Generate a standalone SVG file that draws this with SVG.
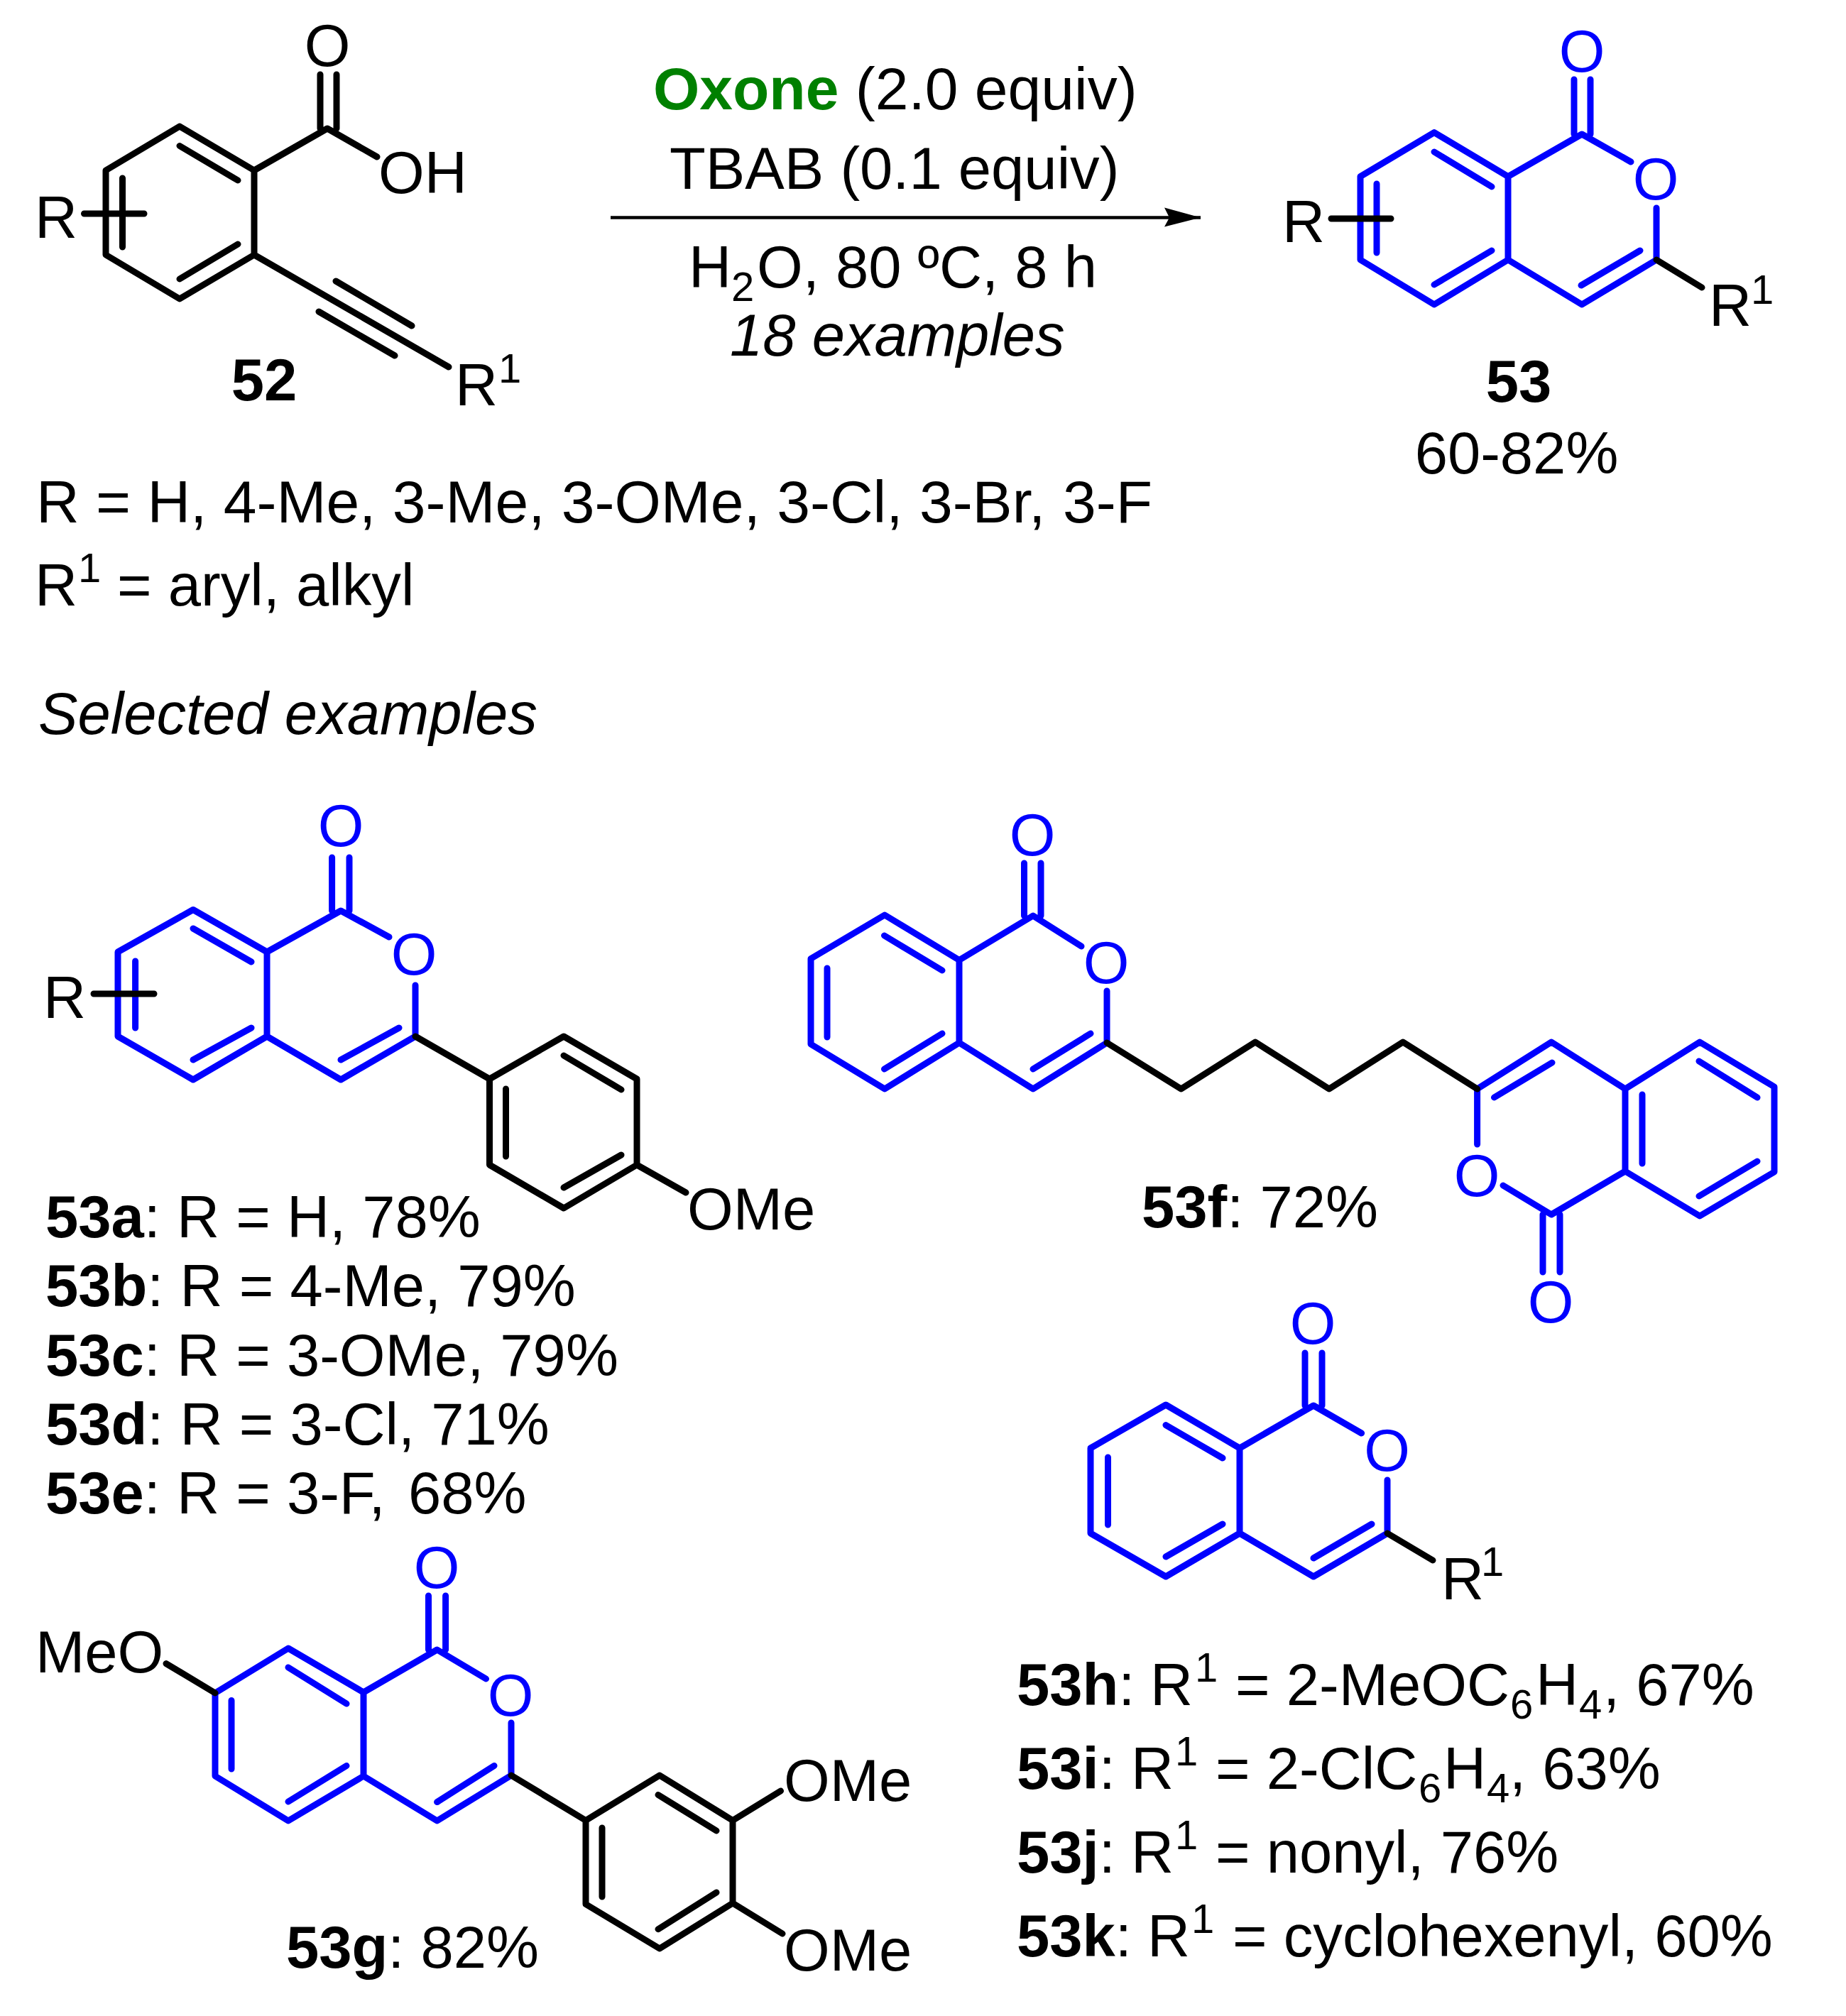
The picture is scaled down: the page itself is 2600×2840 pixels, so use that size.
<svg xmlns="http://www.w3.org/2000/svg" width="2600" height="2840" viewBox="0 0 2600 2840">
<style>
text{font-family:"Liberation Sans",Arial,sans-serif;font-size:83.200px;fill:#000}
.w{font-size:84px}
.b{font-weight:bold}
.i{font-style:italic}
.g{fill:#008000}
.bl{fill:#0000ff}
.s{font-size:58px}
.k,.u{fill:none;stroke-width:9;stroke-linecap:round;stroke-linejoin:round}
.k{stroke:#000}
.u{stroke:#0000ff}
.m{text-anchor:middle}
</style>
<defs>
<marker id="ah" markerUnits="userSpaceOnUse" markerWidth="60" markerHeight="34" refX="51" refY="14" orient="auto" overflow="visible">
<path d="M0 0L51 14L0 27L7 14Z" fill="#000"/>
</marker>
</defs>
<rect width="2600" height="2840" fill="#fff"/>
<g id="connectors">
<path d="M860 306.500H1691" stroke="#000" stroke-width="4.500" fill="none" marker-end="url(#ah)"/>
</g>
<g id="conditions">
<text x="920" y="154" class="w"><tspan class="b g">Oxone</tspan> (2.0 equiv)</text>
<text x="943" y="266">TBAB (0.1 equiv)</text>
<text x="970" y="405">H<tspan class="s" dy="19">2</tspan><tspan x="1066" dy="-19">O, 80 ºC, 8 h</tspan></text>
<text x="1028" y="501" class="i">18 examples</text>
</g>
<g id="mol-52">
<path class="k" d="M253 178L358 240V359L253 421L149 359V240ZM253 205.500L335 254M335 344L253 393M172.500 251V348M118.500 301H203M358 240L461 181L531 221M451 105V181M474 105V181M358 359L632 517M473 396L580 459M449 439L556 501"/>
<text x="461" y="93" class="m">O</text>
<text x="533" y="272">OH</text>
<text x="49" y="335">R</text>
<text x="641" y="571">R</text>
<text x="702" y="539" class="s">1</text>
<text x="372" y="564" class="b m">52</text>
</g>
<g id="mol-53">
<path class="u" d="M2020 186.600L2124 248.600V366L2020 429L1916 366V248.600ZM2020 214L2101 263M2101 353L2020 401M1939 259V356M2124 248.600L2228 189L2297 228M2217 112V189M2240 112V189M2333 293V366L2228 429L2124 366M2227 402L2310 353"/>
<path class="k" d="M2333 366L2397 405M1875 308H1959"/>
<text x="2228" y="101" class="m bl">O</text>
<text x="2332" y="281" class="m bl">O</text>
<text x="1806" y="341">R</text>
<text x="2407" y="459">R</text>
<text x="2466" y="428" class="s">1</text>
<text x="2139" y="566" class="b m">53</text>
<text x="2136" y="667" class="m">60-82%</text>
</g>
<g id="scope">
<text x="51" y="736" class="w">R = H, 4-Me, 3-Me, 3-OMe, 3-Cl, 3-Br, <tspan x="1497">3-F</tspan></text>
<text x="49" y="853">R</text>
<text x="110" y="820" class="s">1</text>
<text x="165" y="853">= aryl, alkyl</text>
<text x="54" y="1034" class="i">Selected examples</text>
</g>
<g id="mol-53a">
<path class="u" d="M272 1281.500L376 1341V1460L272 1521L166 1460V1341ZM272 1308L354 1355M354 1448L272 1493M190.600 1354V1448M376 1341L480 1283L548 1320M467.600 1208V1283M492 1208V1283M585 1388V1460L480 1521L376 1460M480 1493L562 1448"/>
<path class="k" d="M689.500 1520L794 1460L897 1520V1641L794 1702L689.500 1641ZM794 1487L875 1535M712.500 1534V1629M875 1627L794 1673M585 1460L689.500 1520M897 1641L966 1680M132 1400H217"/>
<text x="480" y="1192" class="m bl">O</text>
<text x="583" y="1373" class="m bl">O</text>
<text x="61" y="1434">R</text>
<text x="968" y="1732">OMe</text>
</g>
<g id="labels-53a-e">
<text x="64" y="1743"><tspan class="b">53a</tspan>: R = H, 78%</text>
<text x="64" y="1840"><tspan class="b">53b</tspan>: R = 4-Me, 79%</text>
<text x="64" y="1938"><tspan class="b">53c</tspan>: R = 3-OMe, 79%</text>
<text x="64" y="2035"><tspan class="b">53d</tspan>: R = 3-Cl, 71%</text>
<text x="64" y="2132"><tspan class="b">53e</tspan>: R = 3-F, <tspan x="575">68%</tspan></text>
</g>
<g id="mol-53f">
<path class="u" d="M1246 1289L1351 1352.500V1469L1246 1534L1142 1471V1350.500ZM1245.500 1318L1327 1367M1327 1456L1245.500 1506M1165 1364V1461M1351 1352.500L1455 1290L1523 1333M1442.500 1216V1290M1466 1216V1290M1559 1396V1469L1455 1534L1351 1469M1455 1506L1536 1456"/>
<path class="u" d="M2394 1468L2499 1531V1651L2394 1713L2289 1650V1534ZM2393 1495L2475 1546M2475 1636L2393 1685M2313 1542V1639M2289 1650L2185 1711L2117 1670M2173 1711V1792M2197 1711V1792M2080.600 1612V1534L2185 1468L2289 1534M2104.500 1546L2186 1497"/>
<path class="k" d="M1559 1469L1663.500 1534L1768 1468L1872 1534L1976 1468L2080.600 1534"/>
<text x="1454" y="1205" class="m bl">O</text>
<text x="1558" y="1385" class="m bl">O</text>
<text x="2080" y="1685" class="m bl">O</text>
<text x="2184" y="1863" class="m bl">O</text>
<text x="1608" y="1729"><tspan class="b">53f</tspan>: 72%</text>
</g>
<g id="mol-53g">
<path class="u" d="M406 2322L512 2384V2502L406 2565L303 2502V2385ZM406 2349L488 2400M488 2487.500L406 2538M326 2395.500V2492M512 2384L615.600 2324L684.500 2365M603.500 2248V2324M627.600 2248V2324M720 2427V2501L615.600 2565L512 2502M615.600 2538.600L696 2487.500"/>
<path class="k" d="M825 2564.500L929 2501L1032 2564.500V2681L929 2745L825 2682.500ZM927 2528.500L1009 2579M848 2575V2672M1009 2666L927 2717.700M720 2501L825 2564.500M1032 2564.500L1099.500 2523M1032 2681L1102 2724M303 2385L234 2343.600"/>
<text x="615" y="2237" class="m bl">O</text>
<text x="719" y="2417" class="m bl">O</text>
<text x="50" y="2356">MeO</text>
<text x="1104" y="2537">OMe</text>
<text x="1104" y="2776">OMe</text>
<text x="403" y="2772"><tspan class="b">53g</tspan>: 82%</text>
</g>
<g id="mol-53h-k">
<path class="u" d="M1642 1979L1746 2040V2160L1642 2221L1536 2160V2040ZM1642 2007.600L1722 2054M1722 2147L1642 2193M1560.500 2053V2148M1746 2040L1850 1980L1917.600 2019M1838 1906V1980M1862 1906V1980M1954 2085V2160L1850 2221L1746 2160M1850 2195L1932 2147"/>
<path class="k" d="M1954 2160L2018 2198"/>
<text x="1849" y="1893" class="m bl">O</text>
<text x="1953.500" y="2072" class="m bl">O</text>
<text x="2030" y="2253">R</text>
<text x="2086" y="2220" class="s">1</text>
</g>
<g id="labels-53h-k">
<text x="1432" y="2402"><tspan class="b">53h</tspan>:<tspan x="1620">R</tspan><tspan class="s" x="1683" dy="-33">1</tspan><tspan x="1740" dy="33">= 2-MeOC</tspan><tspan class="s" x="2127" dy="19">6</tspan><tspan x="2163" dy="-19">H</tspan><tspan class="s" x="2224" dy="19">4</tspan><tspan x="2258" dy="-19">, 67%</tspan></text>
<text x="1432" y="2520"><tspan class="b">53i</tspan>:<tspan x="1593">R</tspan><tspan class="s" x="1655" dy="-33">1</tspan><tspan x="1712" dy="33">= 2-ClC</tspan><tspan class="s" x="1998" dy="19">6</tspan><tspan x="2033" dy="-19">H</tspan><tspan class="s" x="2094" dy="19">4</tspan><tspan x="2126" dy="-19">, 63%</tspan></text>
<text x="1432" y="2638"><tspan class="b">53j</tspan>:<tspan x="1593">R</tspan><tspan class="s" x="1655" dy="-33">1</tspan><tspan x="1712" dy="33">= nonyl, 76%</tspan></text>
<text x="1432" y="2756"><tspan class="b">53k</tspan>:<tspan x="1616">R</tspan><tspan class="s" x="1678" dy="-33">1</tspan><tspan x="1736" dy="33">= cyclohexenyl, 60%</tspan></text>
</g>
</svg>
